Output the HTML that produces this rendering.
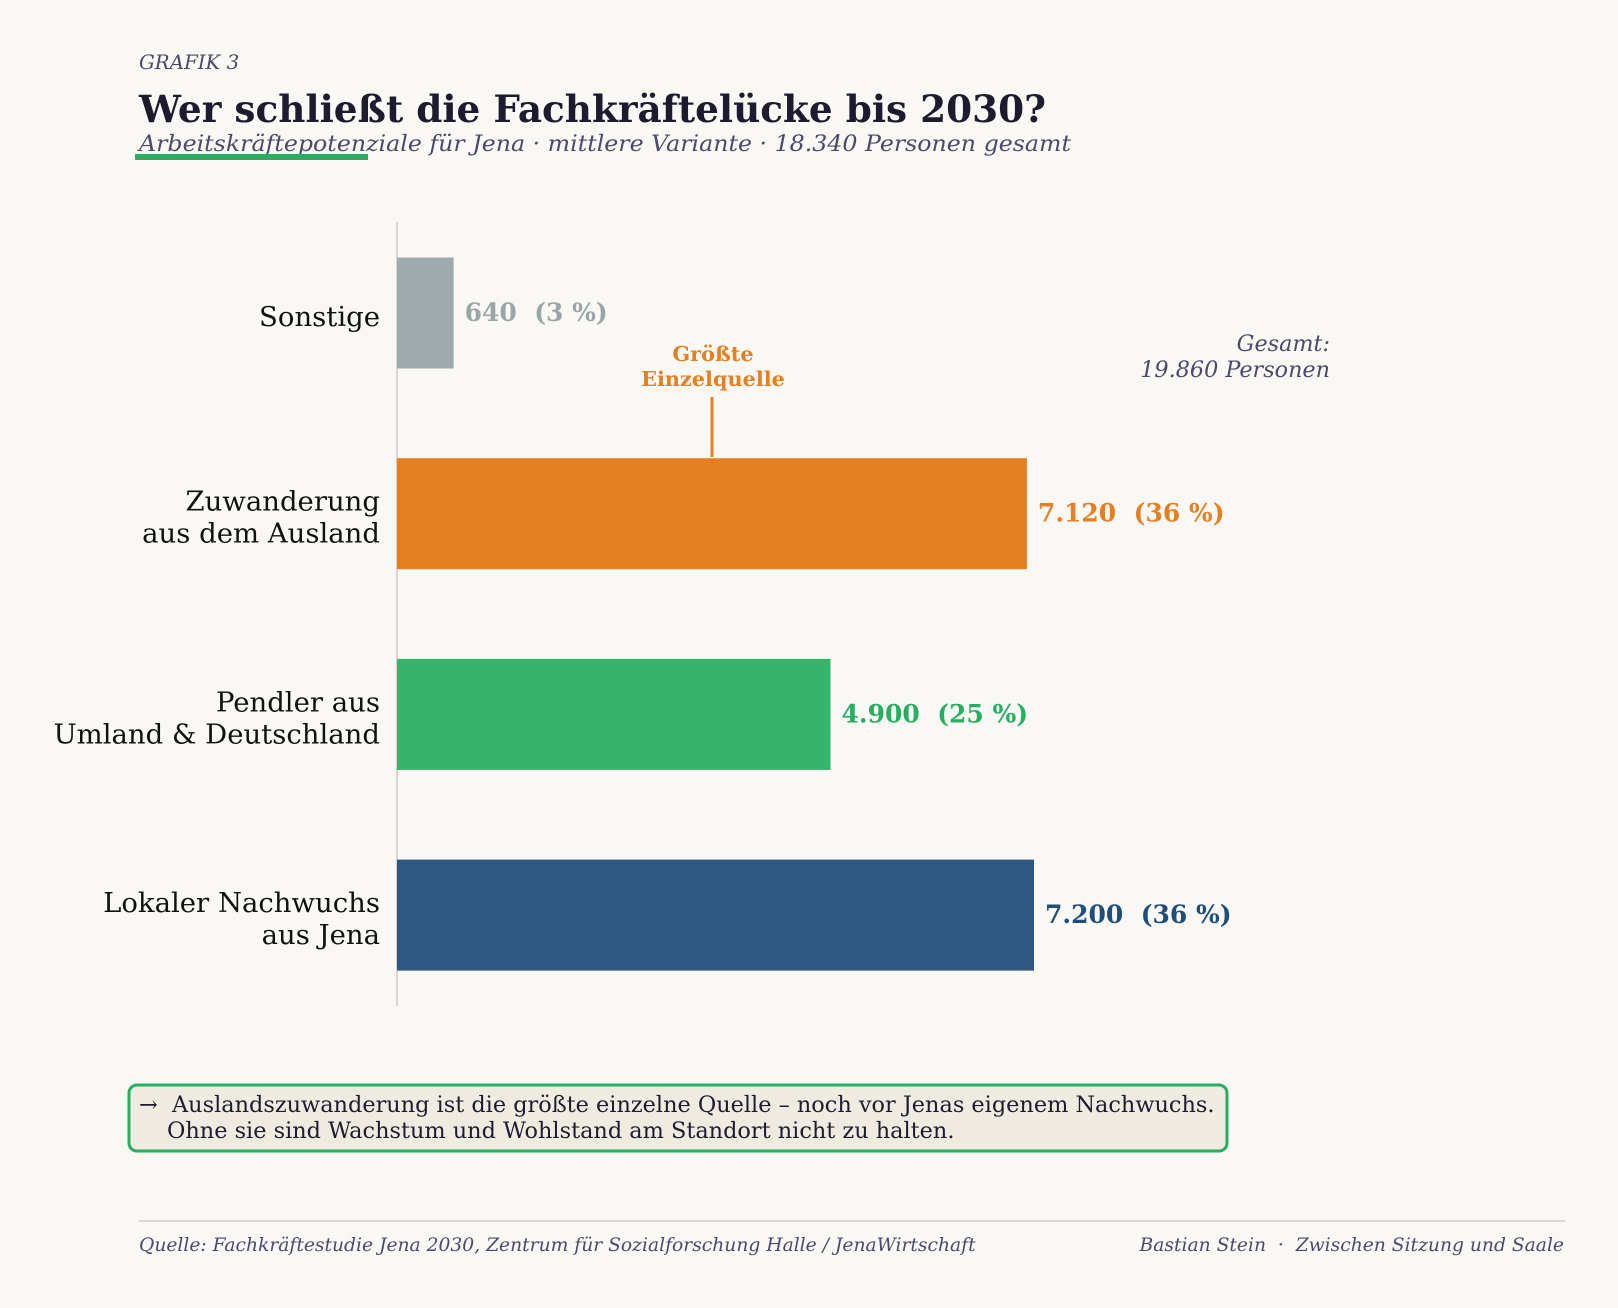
<!DOCTYPE html>
<html><head><meta charset="utf-8"><style>
html,body{margin:0;padding:0;background:#f9f8f4;}
svg{display:block;font-family:"DejaVu Serif","Liberation Serif",serif;}
</style></head><body>
<svg id="chart" width="1618" height="1308" viewBox="0 0 1618 1308">
<rect width="1618" height="1308" fill="#f9f8f4"/>
<text x="139" y="69" font-size="19.8" font-style="italic" fill="#4a4a6a">GRAFIK 3</text>
<text x="139" y="122" font-size="37" font-weight="bold" fill="#1c1c2e" textLength="907" lengthAdjust="spacingAndGlyphs">Wer schließt die Fachkräftelücke bis 2030?</text>
<text x="139" y="151" font-size="22" font-style="italic" fill="#4a4a6a" textLength="932" lengthAdjust="spacingAndGlyphs">Arbeitskräftepotenziale für Jena · mittlere Variante · 18.340 Personen gesamt</text>
<rect x="135" y="154" width="233" height="6" fill="#27ae60"/>
<line x1="397" y1="222" x2="397" y2="1006" stroke="#cfc8c0" stroke-width="1.5"/>
<g id="bars"></g>
<text text-anchor="end" font-size="22.3" font-style="italic" fill="#4a4a6a"><tspan x="1330" y="351">Gesamt:</tspan><tspan x="1330" y="377">19.860 Personen</tspan></text>
<g>
<text text-anchor="middle" font-size="20.8" font-weight="bold" fill="#e67e22"><tspan x="713" y="361">Größte</tspan><tspan x="713" y="386">Einzelquelle</tspan></text>
<line x1="712" y1="397" x2="712" y2="457" stroke="#e67e22" stroke-width="3"/>
</g>
<rect x="129" y="1085" width="1098" height="66" rx="8" fill="#f0ebe0" stroke="#27ae60" stroke-width="3"/>
<text font-size="22.4" fill="#1c1c2e" xml:space="preserve"><tspan x="139" y="1112">→  Auslandszuwanderung ist die größte einzelne Quelle – noch vor Jenas eigenem Nachwuchs.</tspan><tspan x="167" y="1138">Ohne sie sind Wachstum und Wohlstand am Standort nicht zu halten.</tspan></text>
<line x1="139" y1="1221" x2="1565" y2="1221" stroke="#d3cdc6" stroke-width="1.5"/>
<text x="139" y="1251" font-size="18.7" font-style="italic" fill="#4a4a6a">Quelle: Fachkräftestudie Jena 2030, Zentrum für Sozialforschung Halle / JenaWirtschaft</text>
<text x="1564" y="1251" text-anchor="end" font-size="18.7" font-style="italic" fill="#4a4a6a" xml:space="preserve">Bastian Stein  ·  Zwischen Sitzung und Saale</text>
</svg>
<script>
const categories = [["Sonstige"], ["Zuwanderung","aus dem Ausland"], ["Pendler aus","Umland & Deutschland"], ["Lokaler Nachwuchs","aus Jena"]];
const values = [640, 7120, 4900, 7200];
const valueLabels = ["640", "7.120", "4.900", "7.200"];
const shareLabels = ["(3 %)", "(36 %)", "(25 %)", "(36 %)"];
const barColors = ["#9eaaab", "#e67e22", "#37b46b", "#2c5882"];
const textColors = ["#9aa6a7", "#e67e22", "#27ae60", "#1f4e79"];

const NS = "http://www.w3.org/2000/svg";
const x0 = 397, pxPer = 637 / 7200;
const xScale = v => x0 + v * pxPer;
const yCenter = i => 313 + i * 200.7;
const barH = 111;
const g = document.getElementById("bars");
values.forEach((v, i) => {
  const r = document.createElementNS(NS, "rect");
  r.setAttribute("x", x0);
  r.setAttribute("y", yCenter(i) - barH / 2);
  r.setAttribute("width", xScale(v) - x0);
  r.setAttribute("height", barH);
  r.setAttribute("fill", barColors[i]);
  
  
  g.appendChild(r);

  const t = document.createElementNS(NS, "text");
  t.setAttribute("x", xScale(v) + 11);
  t.setAttribute("y", yCenter(i) + 8);
  t.setAttribute("font-size", "25");
  t.setAttribute("font-weight", "bold");
  t.setAttribute("fill", textColors[i]);
  t.textContent = valueLabels[i] + "\u00a0\u00a0" + shareLabels[i];
  
  
  g.appendChild(t);

  const c = document.createElementNS(NS, "text");
  c.setAttribute("text-anchor", "end");
  c.setAttribute("font-size", "27.5");
  c.setAttribute("fill", "#111");
  const lines = categories[i];
  lines.forEach((ln, k) => {
    const ts = document.createElementNS(NS, "tspan");
    ts.setAttribute("x", 380);
    ts.setAttribute("y", yCenter(i) + 13 + (k - (lines.length - 1) / 2) * 32);
    ts.textContent = ln;
    c.appendChild(ts);
  });
  
  
  g.appendChild(c);
});
</script>
</body></html>
